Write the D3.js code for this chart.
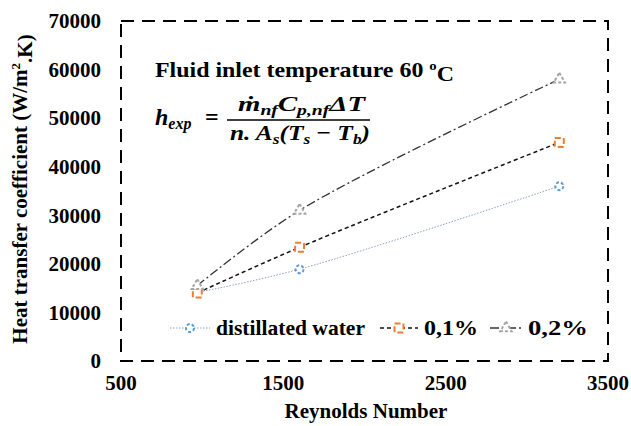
<!DOCTYPE html>
<html><head><meta charset="utf-8">
<script src="https://cdn.jsdelivr.net/npm/d3@7"></script>
<style>body{margin:0;background:#fff}svg{display:block}</style>
</head><body>
<svg id="c" width="631" height="426"></svg>
<script>
const reynolds = [970, 1600, 3200];
const water = [14100, 18900, 36000];
const np01 = [14000, 23400, 45000];
const np02 = [15500, 31000, 58000];
const seriesNames = ["distillated water", "0,1%", "0,2%"];
const xTicks = [500, 1500, 2500, 3500];
const yTicks = [0, 10000, 20000, 30000, 40000, 50000, 60000, 70000];

const svg = d3.select("#c");
const L = 121, R = 608, T = 21, B = 361;
const x = d3.scaleLinear().domain([500, 3500]).range([L, R]);
const y = d3.scaleLinear().domain([0, 70000]).range([B, T]);
const serif = "'Liberation Serif','Times New Roman',serif";

// dashed frame
svg.append("rect").attr("x", L).attr("y", T).attr("width", R - L).attr("height", B - T)
  .attr("fill", "none").attr("stroke", "#000").attr("stroke-width", 2)
  .attr("stroke-dasharray", "13,8");

// y tick labels
svg.append("g").selectAll("text").data(yTicks).join("text")
  .attr("x", 101).attr("y", d => y(d)).attr("dy", "0.35em")
  .attr("text-anchor", "end").attr("font-family", serif).attr("font-weight", "bold")
  .attr("font-size", 21).text(d => d);
// x tick labels
svg.append("g").selectAll("text").data(xTicks).join("text")
  .attr("x", d => x(d)).attr("y", 383).attr("dy", "0.35em")
  .attr("text-anchor", "middle").attr("font-family", serif).attr("font-weight", "bold")
  .attr("font-size", 21).text(d => d);

// axis titles
svg.append("text").attr("x", 366).attr("y", 411).attr("dy", "0.35em")
  .attr("text-anchor", "middle").attr("font-family", serif).attr("font-weight", "bold")
  .attr("font-size", 21).text("Reynolds Number");
const yt = svg.append("text").attr("transform", "translate(20,189) rotate(-90)")
  .attr("dy", "0.35em").attr("text-anchor", "middle").attr("font-family", serif)
  .attr("font-weight", "bold").attr("font-size", 21);
yt.append("tspan").text("Heat transfer coefficient (W/m");
yt.append("tspan").attr("font-size", 13).attr("dy", "-0.6em").text("2");
yt.append("tspan").attr("dy", "0.6em").text(".K)");

// annotation
const ann = svg.append("text").attr("x", 155).attr("y", 77).attr("font-family", serif)
  .attr("font-weight", "bold").attr("font-size", 21)
  .attr("textLength", 299).attr("lengthAdjust", "spacingAndGlyphs");
ann.append("tspan").text("Fluid inlet temperature 60 ");
ann.append("tspan").attr("font-size", 13).attr("dy", "-0.55em").text("o");
ann.append("tspan").attr("dy", "0.55em").text("C");

// equation
function eq(sel) { return sel.attr("font-family", serif).attr("font-weight", "bold").attr("font-style", "italic"); }
const lhs = eq(svg.append("text")).attr("x", 155).attr("y", 125).attr("font-size", 24);
lhs.append("tspan").text("h");
lhs.append("tspan").attr("font-size", 16).attr("dy", 4).text("exp");
lhs.append("tspan").attr("dy", -4).attr("x", 205).attr("font-style", "normal").text("=");
svg.append("line").attr("x1", 227).attr("x2", 370).attr("y1", 120).attr("y2", 120)
  .attr("stroke", "#000").attr("stroke-width", 1.3);
const num = eq(svg.append("text")).attr("x", 238).attr("y", 111).attr("font-size", 22)
  .attr("textLength", 127).attr("lengthAdjust", "spacingAndGlyphs");
num.append("tspan").text("ṁ");
num.append("tspan").attr("font-size", 15).attr("dy", 4).text("nf");
num.append("tspan").attr("dy", -4).text("C");
num.append("tspan").attr("font-size", 15).attr("dy", 4).text("p,nf");
num.append("tspan").attr("dy", -4).text("ΔT");
const den = eq(svg.append("text")).attr("x", 230).attr("y", 140).attr("font-size", 22)
  .attr("textLength", 140).attr("lengthAdjust", "spacingAndGlyphs");
den.append("tspan").text("n. A");
den.append("tspan").attr("font-size", 15).attr("dy", 4).text("s");
den.append("tspan").attr("dy", -4).text("(T");
den.append("tspan").attr("font-size", 15).attr("dy", 4).text("s");
den.append("tspan").attr("dy", -4).attr("font-style", "normal").text(" − ");
den.append("tspan").text("T");
den.append("tspan").attr("font-size", 15).attr("dy", 4).text("b");
den.append("tspan").attr("dy", -4).text(")");

// series
const series = [
  { name: seriesNames[0], vals: water, line: "#8aa2c0", lw: 1, dash: "1.5,1.5", mark: "circle", mc: "#5b9bd5" },
  { name: seriesNames[1], vals: np01, line: "#111", lw: 1.5, dash: "4,3", mark: "square", mc: "#ed7d31" },
  { name: seriesNames[2], vals: np02, line: "#333", lw: 1.3, dash: "9,3,2,3", mark: "triangle", mc: "#a5a5a5" }
];
const lineGen = d3.line().x(d => x(d[0])).y(d => y(d[1])).curve(d3.curveCatmullRom.alpha(0.5));
const symType = { circle: d3.symbolCircle, square: d3.symbolSquare, triangle: d3.symbolTriangle };
const symSize = { circle: 50, square: 80, triangle: 55 };
function marker(g, s, cx, cy) {
  g.append("path").attr("d", d3.symbol().type(symType[s.mark]).size(symSize[s.mark])())
    .attr("transform", `translate(${cx},${cy})`)
    .attr("fill", "#fff").attr("stroke", s.mc).attr("stroke-width", 2)
    .attr("stroke-dasharray", s.mark === "square" ? "6,3" : "3,2");
}
series.forEach(s => {
  const pts = reynolds.map((r, i) => [r, s.vals[i]]);
  svg.append("path").attr("d", lineGen(pts)).attr("fill", "none")
    .attr("stroke", s.line).attr("stroke-width", s.lw).attr("stroke-dasharray", s.dash);
});
series.forEach(s => {
  const g = svg.append("g");
  reynolds.forEach((r, i) => marker(g, s, x(r), y(s.vals[i])));
});

// legend
const legY = 328;
const legItems = [
  { x0: 170, x1: 210, tx: 216, w: 149 },
  { x0: 380, x1: 418, tx: 424, w: 54 },
  { x0: 490, x1: 522, tx: 528, w: 60 }
];
series.forEach((s, i) => {
  const it = legItems[i];
  const g = svg.append("g");
  g.append("line").attr("x1", it.x0).attr("x2", it.x1).attr("y1", legY).attr("y2", legY)
    .attr("stroke", s.line).attr("stroke-width", s.lw).attr("stroke-dasharray", s.dash);
  marker(g, s, (it.x0 + it.x1) / 2, legY);
  g.append("text").attr("x", it.tx).attr("y", legY).attr("dy", "0.35em")
    .attr("font-family", serif).attr("font-weight", "bold").attr("font-size", 21)
    .attr("textLength", it.w).attr("lengthAdjust", "spacingAndGlyphs").text(s.name);
});
</script>
</body></html>
